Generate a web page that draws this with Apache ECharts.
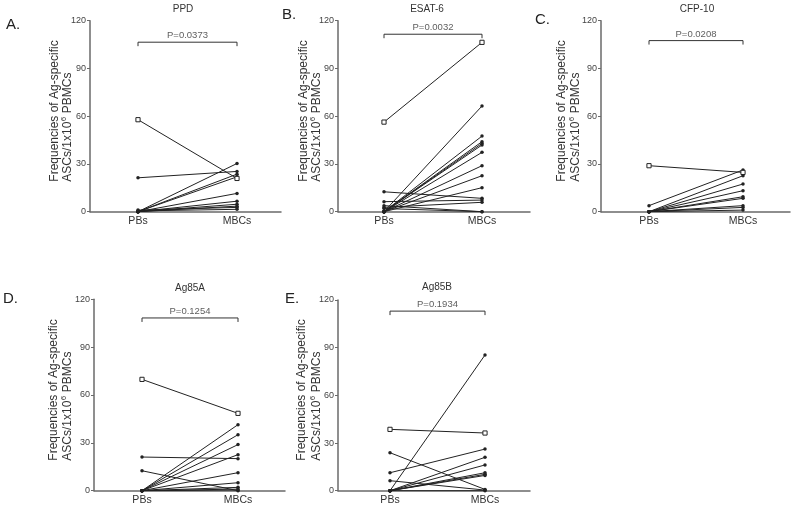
<!DOCTYPE html>
<html><head><meta charset="utf-8">
<script src="https://cdn.jsdelivr.net/npm/echarts@6/dist/echarts.min.js"></script>
<style>html,body{margin:0;padding:0;background:#fff}#c{width:796px;height:507px}</style>
</head><body><div id="c"></div>
<script>
// ---- data ----
const groups = ['PBs', 'MBCs'];
const yTicks = [0, 30, 60, 90, 120];
const panelTitles = ['PPD', 'ESAT-6', 'CFP-10', 'Ag85A', 'Ag85B'];
const panelLetters = ['A.', 'B.', 'C.', 'D.', 'E.'];
const pValues = ['P=0.0373', 'P=0.0032', 'P=0.0208', 'P=0.1254', 'P=0.1934'];
const bracketLevels = [106.5, 111.5, 107.5, 108.3, 113];
const axisNameLine1 = 'Frequencies of Ag-specific';
const axisNameLine2a = 'ASCs/1x10';
const axisNameSup = '6';
const axisNameLine2b = ' PBMCs';

// first subject in each panel is drawn with an open square
const ppdPBs  = [57.8, 21.3, 0, 0, 0, 0, 0, 0, 0, 1, 0.5];
const ppdMBCs = [20.9, 25.3, 30.3, 23.6, 21.9, 11.5, 6.6, 4.7, 3.5, 2.7, 1.5];
const esatPBs  = [56.3, 12.5, 6.3, 3.8, 2.7, 2, 0, 0, 0, 0, 0, 0, 0, 0, 0];
const esatMBCs = [106.4, 8.4, 7.3, 0, 5.9, 0, 66.4, 47.5, 44, 42.9, 41.9, 37.3, 28.9, 22.6, 15.1];
const cfpPBs  = [28.9, 3.8, 0, 0, 0, 0, 0, 0, 0, 0];
const cfpMBCs = [24.7, 26.2, 22.6, 17.4, 13.2, 9.4, 8.4, 3.8, 2.7, 1];
const ag85aPBs  = [69.8, 21.1, 12.5, 0, 0, 0, 0, 0, 0, 0, 0, 0];
const ag85aMBCs = [48.5, 20.1, 0, 41.4, 35.1, 28.9, 22.6, 11.3, 5, 2.1, 1, 0.4];
const ag85bPBs  = [38.6, 23.9, 11.3, 6.3, 0, 0, 0, 0, 0, 0, 0];
const ag85bMBCs = [36.3, 0.8, 26.2, 0.4, 85.4, 21, 16.2, 11.3, 10.3, 9.6, 0];

const pbsSets = [ppdPBs, esatPBs, cfpPBs, ag85aPBs, ag85bPBs];
const mbcsSets = [ppdMBCs, esatMBCs, cfpMBCs, ag85aMBCs, ag85bMBCs];

// ---- layout (pixels) ----
const frames = [
  {axisX: 90,  endX: 281, top: 20.7,  bottom: 211.7, pbsX: 138, mbcsX: 237, titleX: 183, titleY: 9,   letterX: 6,   letterY: 25,  n1: 55,  n2: 68},
  {axisX: 338, endX: 530, top: 20.7,  bottom: 211.7, pbsX: 384, mbcsX: 482, titleX: 427, titleY: 9,   letterX: 282, letterY: 15,  n1: 304, n2: 317},
  {axisX: 601, endX: 790, top: 20.7,  bottom: 211.7, pbsX: 649, mbcsX: 743, titleX: 697, titleY: 9,   letterX: 535, letterY: 20,  n1: 562, n2: 576},
  {axisX: 94,  endX: 285, top: 299.3, bottom: 490.7, pbsX: 142, mbcsX: 238, titleX: 190, titleY: 288, letterX: 3,   letterY: 299, n1: 54,  n2: 68},
  {axisX: 338, endX: 530, top: 300,   bottom: 490.7, pbsX: 390, mbcsX: 485, titleX: 437, titleY: 287, letterX: 285, letterY: 299, n1: 302, n2: 317}
];

const FONT = '"Liberation Sans", Arial, Helvetica, sans-serif';
const INK = '#222';
const AXIS = '#6a6a6a';
const NAME_SIZE = 12, SUP_SIZE = 8;

const mctx = document.createElement('canvas').getContext('2d');
function textW(t, size) { mctx.font = size + 'px ' + FONT; return mctx.measureText(t).width; }
const w2a = textW(axisNameLine2a, NAME_SIZE);
const wSup = textW(axisNameSup, SUP_SIZE);

const grids = [], xAxes = [], yAxes = [], series = [], graphics = [];
frames.forEach((f, i) => {
  grids.push({left: f.axisX, top: f.top, width: f.endX - f.axisX, height: f.bottom - f.top, containLabel: false});
  const unit = f.mbcsX - f.pbsX;
  xAxes.push({
    gridIndex: i, type: 'value',
    min: -(f.pbsX - f.axisX) / unit, max: 1 + (f.endX - f.mbcsX) / unit,
    axisLine: {show: true, onZero: false, lineStyle: {color: AXIS, width: 1.5}},
    axisTick: {show: false}, splitLine: {show: false},
    axisLabel: {customValues: [0, 1], formatter: v => groups[Math.round(v)], fontSize: 10.5, color: '#333', margin: 4, fontFamily: FONT}
  });
  yAxes.push({
    gridIndex: i, type: 'value', min: yTicks[0], max: yTicks[yTicks.length - 1], interval: yTicks[1] - yTicks[0],
    axisLine: {show: true, onZero: false, lineStyle: {color: AXIS, width: 1.5}},
    axisTick: {show: true, length: 3, lineStyle: {color: AXIS}},
    splitLine: {show: false},
    axisLabel: {fontSize: 9, color: '#444', margin: 4, fontFamily: FONT}
  });
  const pbs = pbsSets[i], mbcs = mbcsSets[i];
  pbs.forEach((v, j) => {
    const sq = j === 0;
    series.push({
      type: 'line', xAxisIndex: i, yAxisIndex: i, silent: true, animation: false,
      data: [[0, v], [1, mbcs[j]]],
      symbol: sq ? 'rect' : 'circle', symbolSize: sq ? 4.2 : 3.5, showSymbol: true,
      lineStyle: {color: INK, width: 1},
      itemStyle: sq ? {color: '#fff', borderColor: INK, borderWidth: 1} : {color: INK},
      z: sq ? 5 : 3
    });
  });
  const b = bracketLevels[i];
  series.push({
    type: 'line', xAxisIndex: i, yAxisIndex: i, silent: true, animation: false, symbol: 'none',
    data: [[0, b - 2.5], [0, b], [1, b], [1, b - 2.5]],
    lineStyle: {color: '#333', width: 1}
  });
  series.push({
    type: 'scatter', xAxisIndex: i, yAxisIndex: i, silent: true, animation: false, symbolSize: 0,
    data: [[0.5, b]],
    label: {show: true, position: 'top', distance: 1.5, formatter: pValues[i], fontSize: 9.5, color: '#333', fontFamily: FONT}
  });
  graphics.push({type: 'text', x: f.titleX, y: f.titleY, style: {text: panelTitles[i], fontSize: 10, fill: '#333', fontFamily: FONT, textAlign: 'center', textVerticalAlign: 'middle'}});
  graphics.push({type: 'text', x: f.letterX, y: f.letterY, style: {text: panelLetters[i], fontSize: 15, fill: INK, fontFamily: FONT, textAlign: 'left', textVerticalAlign: 'middle'}});
  const ny = f.bottom - 30;
  const rot = Math.PI / 2;
  const base = {fontFamily: FONT, fill: '#333', textAlign: 'left', textVerticalAlign: 'middle'};
  graphics.push({type: 'text', x: f.n1, y: ny, rotation: rot, style: Object.assign({text: axisNameLine1, fontSize: NAME_SIZE}, base)});
  graphics.push({type: 'text', x: f.n2, y: ny, rotation: rot, style: Object.assign({text: axisNameLine2a, fontSize: NAME_SIZE}, base)});
  graphics.push({type: 'text', x: f.n2 - 4, y: ny - w2a - 0.3, rotation: rot, style: Object.assign({text: axisNameSup, fontSize: SUP_SIZE}, base)});
  graphics.push({type: 'text', x: f.n2, y: ny - w2a - wSup - 0.6, rotation: rot, style: Object.assign({text: axisNameLine2b, fontSize: NAME_SIZE}, base)});
});

const chart = echarts.init(document.getElementById('c'), null, {renderer: 'canvas'});
chart.setOption({
  animation: false, backgroundColor: '#fff',
  grid: grids, xAxis: xAxes, yAxis: yAxes, series: series, graphic: graphics
});
</script>
</body></html>
